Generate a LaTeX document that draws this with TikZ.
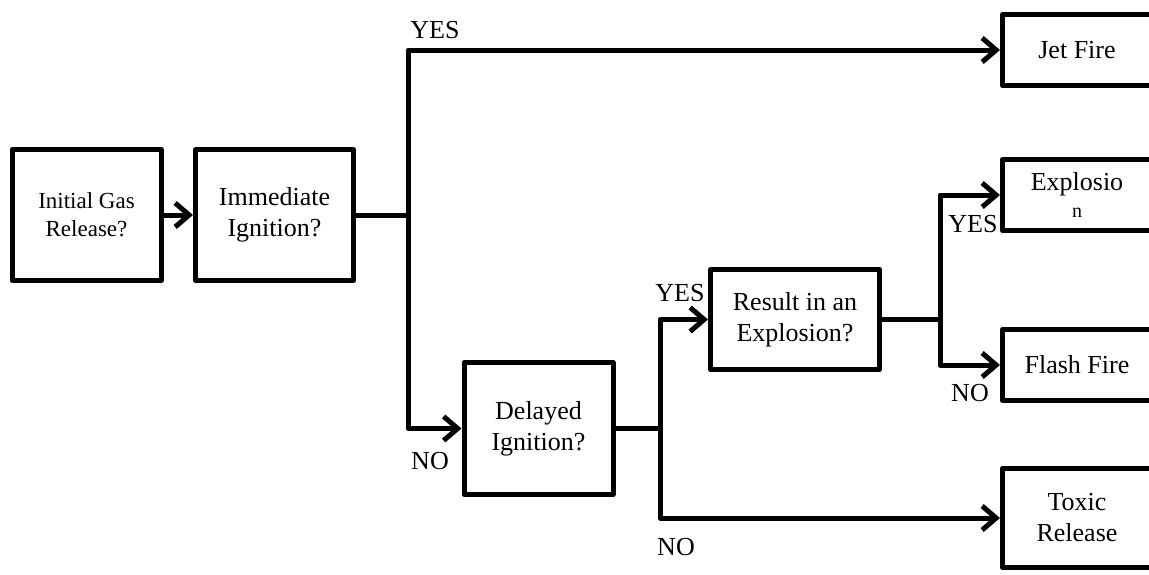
\documentclass[tikz,border=0pt]{standalone}
\usepackage{fontspec}
\setmainfont{Liberation Serif}
\usetikzlibrary{arrows.meta}
\tikzset{
	box/.style={draw, line width=5pt, inner sep=0pt, align=center, font=\fontsize{26}{31}\selectfont},
	lbl/.style={inner sep=0pt, font=\fontsize{26}{31}\selectfont},
	arr/.style={-{Straight Barb[length=14pt,width=24pt]}},
}
\begin{document}
\begin{tikzpicture}[x=1pt, y=-1pt, line width=5pt, line join=round]
		\useasboundingbox (0,0) rectangle (1149,574);
		\clip (0,0) rectangle (1149,574);
		
		%Questions
		\node[box, minimum width=149pt, minimum height=131pt, font=\fontsize{23}{28}\selectfont] (init) at (86.5,215) {Initial Gas\\Release?};
		\node[box, minimum width=158pt, minimum height=131pt] (immed) at (274.5,215) {Immediate\\Ignition?};
		\node[box, minimum width=149pt, minimum height=132pt] (delayed) at (538.5,428.5) {Delayed\\Ignition?};
		\node[box, minimum width=169pt, minimum height=100pt] (result) at (795,319.5) {Result in an\\Explosion?};
		
		%Outcomes
		\node[box, minimum width=149pt, minimum height=71pt] (jet) at (1077,50) {Jet Fire};
		\node[box, minimum width=149pt, minimum height=71pt] (expl) at (1077,195) {Explosio\\[-4pt]{\fontsize{20}{22}\selectfont n}};
		\node[box, minimum width=149pt, minimum height=71pt] (flash) at (1077,365) {Flash Fire};
		\node[box, minimum width=149pt, minimum height=99pt] (toxic) at (1077,518) {Toxic\\Release};
		
		%Branch points
		\coordinate (s1) at (408,215);
		\coordinate (s2) at (660,428.5);
		\coordinate (s3) at (940,319.5);
		
		\draw[arr] (init) -- (immed);
		
		\draw (immed) -- (s1);
		\draw[arr] (s1) |- (jet);
		\draw[arr] (s1) |- (delayed);
		
		\draw (delayed) -- (s2);
		\draw[arr] (s2) |- (result);
		\draw[arr] (s2) |- (toxic);
		
		\draw (result) -- (s3);
		\draw[arr] (s3) |- (expl);
		\draw[arr] (s3) |- (flash);
		
		%Labels
		\node[lbl] (y1) at (435,30) {YES};
		\node[lbl] (n1) at (430,461) {NO};
		\node[lbl] (y2) at (680,293) {YES};
		\node[lbl] (n2) at (676,547) {NO};
		\node[lbl] (y3) at (973,224) {YES};
		\node[lbl] (n3) at (970,393) {NO};
	\end{tikzpicture}
\end{document}
